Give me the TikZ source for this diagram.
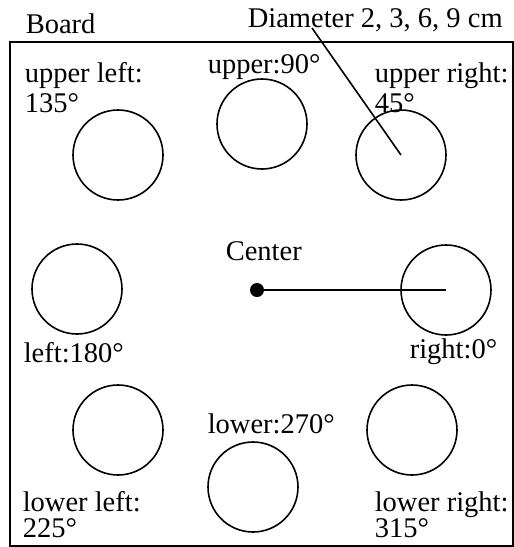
\documentclass[tikz,border=0pt]{standalone}
\usepackage{fontspec}
\setmainfont{Liberation Serif}
\tikzset{
  hole/.style={ % one of the eight circles on the board
    draw, circle, line width=1.6pt, minimum size=90pt, inner sep=0pt
  },
  lbl/.style={ % text placed by its baseline
    anchor=base west, inner sep=0pt, font=\fontsize{28.5}{32}\selectfont
  },
  dot/.style={
    fill, circle, minimum size=14pt, inner sep=0pt
  }
}
\begin{document}
\begin{tikzpicture}[x=1pt, y=-1pt, line width=1.6pt]
    \useasboundingbox (0,0) rectangle (514,547);
    \draw (10,42) rectangle (513,546);

    \node[lbl] (board) at (25,33) {Board};
    \node[lbl] (diam) at (247,27) {Diameter 2, 3, 6, 9 cm};

    % circles
    \node[hole] (ul) at (118,155) {};
    \node[hole] (up) at (262,124) {};
    \node[hole] (ur) at (401,155) {};
    \node[hole] (lf) at (77,289) {};
    \node[hole] (rt) at (446,290) {};
    \node[hole] (ll) at (118,430) {};
    \node[hole] (lw) at (253,487) {};
    \node[hole] (lr) at (412,430) {};
    \node[dot] (c) at (257,290) {};

    % labels
    \node[lbl] (ultext) at (24,82) {upper left:};
    \node[lbl] (ulang) at (24,112) {135°};
    \node[lbl] (uptext) at (207,73) {upper:90°};
    \node[lbl] (urtext) at (374,82) {upper right:};
    \node[lbl] (urang) at (374,112) {45°};
    \node[lbl] (ctext) at (225,260) {Center};
    \node[lbl] (lftext) at (23,362) {left:180°};
    \node[lbl] (rttext) at (409,358) {right:0°};
    \node[lbl] (lwtext) at (207,433) {lower:270°};
    \node[lbl] (lltext) at (22,511) {lower left:};
    \node[lbl] (llang) at (22,537) {225°};
    \node[lbl] (lrtext) at (374,511) {lower right:};
    \node[lbl] (lrang) at (374,537) {315°};

    \coordinate (dtip) at (312,28);
    \draw (dtip) -- (ur.center);
    \draw (c.center) -- (rt.center);
\end{tikzpicture}
\end{document}
